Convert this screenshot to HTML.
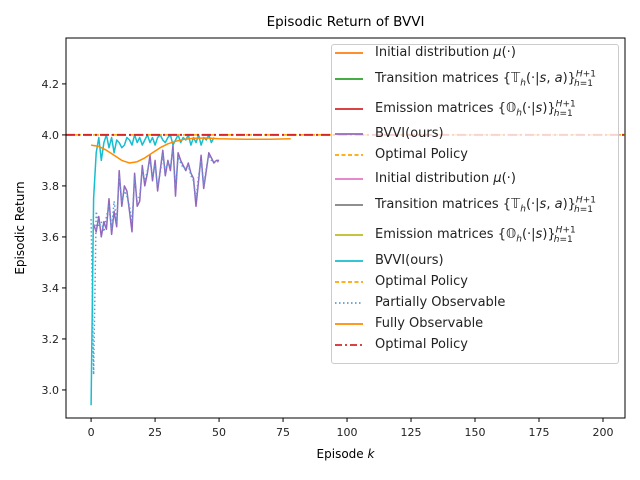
<!DOCTYPE html>
<html><head><meta charset="utf-8"><style>
body{margin:0;background:#fff;font-family:"Liberation Sans","DejaVu Sans",sans-serif}
#wrap{position:relative;width:640px;height:480px;overflow:hidden}
svg text{font-family:"DejaVu Sans","Liberation Sans",sans-serif}
#legend{position:absolute;left:331px;top:44px;width:286px;height:318px;border:1px solid #ccc;border-radius:3px;background:rgba(255,255,255,0.8);font-family:"DejaVu Sans","Liberation Sans",sans-serif;font-size:13px;color:#222}
.le{position:absolute;left:0;height:18px;line-height:18px;white-space:nowrap}
.le svg{position:absolute;left:3px;top:4px}
.le span{position:absolute;left:43px;top:0}
sub,sup{font-size:9px;line-height:0}
</style></head><body>
<div id="wrap">
<svg id="chart" width="640" height="480"></svg>
<div id="legend"></div>
</div>
<script>
const purpleK=[1,2,3,4,5,6,7,8,9,10,11,12,13,14,15,16,17,18,19,20,21,22,23,24,25,26,27,28,29,30,31,32,33,34,35,36,37,38,39,40,41,42,43,44,45,46,47,48,49,50];
const purpleV=[3.65,3.62,3.68,3.60,3.66,3.63,3.75,3.61,3.70,3.64,3.86,3.72,3.80,3.78,3.70,3.62,3.85,3.72,3.74,3.88,3.80,3.85,3.92,3.82,3.90,3.78,3.86,3.94,3.84,3.90,3.86,3.96,3.76,3.93,3.90,3.88,3.86,3.89,3.85,3.83,3.72,3.82,3.92,3.79,3.86,3.93,3.91,3.89,3.90,3.90];
const dottedK=[0,1,2,3,4,5,6,7,8,9,10,11,12,13,14,15,16,17,18,19,20,21,22,23,24,25,26,27,28,29,30,31,32,33,34,35,36,37,38,39,40,41,42,43,44,45,46,47,48,49,50];
const dottedV=[3.67,3.06,3.70,3.64,3.66,3.62,3.68,3.72,3.63,3.74,3.66,3.84,3.74,3.78,3.76,3.72,3.66,3.83,3.74,3.76,3.86,3.82,3.86,3.90,3.84,3.88,3.80,3.85,3.92,3.86,3.89,3.88,3.94,3.80,3.91,3.89,3.87,3.87,3.88,3.84,3.82,3.75,3.84,3.90,3.80,3.87,3.92,3.90,3.90,3.89,3.90];
const cyanK=[0,1,2,3,4,5,6,7,8,9,10,11,12,13,14,15,16,17,18,19,20,21,22,23,24,25,26,27,28,29,30,31,32,33,34,35,36,37,38,39,40,41,42,43,44,45,46,47,48];
const cyanV=[2.94,3.75,3.93,3.99,3.90,3.97,4.0,3.95,3.99,3.93,3.98,3.97,3.95,3.96,3.99,3.98,3.96,4.0,3.97,3.99,3.96,3.98,4.0,3.97,3.99,3.96,3.99,4.0,3.98,3.97,3.99,4.0,3.96,3.98,4.0,3.97,3.99,3.98,4.0,3.96,3.99,3.97,4.0,3.96,3.99,3.98,4.0,3.97,3.99];
const orangeK=[0,3,6,9,12,15,18,21,24,27,30,33,36,40,45,50,60,70,78];
const orangeV=[3.96,3.955,3.94,3.92,3.90,3.89,3.895,3.91,3.93,3.95,3.965,3.975,3.982,3.987,3.988,3.985,3.983,3.983,3.985];
const xTicks=[0,25,50,75,100,125,150,175,200];
const yTicks=[3.0,3.2,3.4,3.6,3.8,4.0,4.2];
const optimal=4.0;

const L=66,R=625,T=38,B=418;
const xmin=-9.8,xmax=208.6,ymin=2.89,ymax=4.38;
const X=k=>L+(k-xmin)/(xmax-xmin)*(R-L);
const Y=v=>B-(v-ymin)/(ymax-ymin)*(B-T);
const svg=document.getElementById('chart');
const NS='http://www.w3.org/2000/svg';
function mk(tag,attrs,parent){const e=document.createElementNS(NS,tag);for(const k in attrs)e.setAttribute(k,attrs[k]);(parent||svg).appendChild(e);return e;}
function line(ks,vs,attrs,name){
  const p=mk('polyline',Object.assign({fill:'none','stroke-linejoin':'round'},attrs));
  p.setAttribute('points',ks.map((k,i)=>X(k).toFixed(1)+','+Y(vs[i]).toFixed(1)).join(' '));
  
  
  return p;
}
const defs=mk('defs',{});const cp=mk('clipPath',{id:'c'},defs);mk('rect',{x:L,y:T,width:R-L,height:B-T},cp);
const g=mk('g',{'clip-path':'url(#c)'});
function lineG(ks,vs,attrs,name){const p=line(ks,vs,attrs,name);g.appendChild(p);return p;}
lineG(purpleK,purpleV,{stroke:'#9467bd','stroke-width':1.5},'bvvi-purple-line');
lineG(dottedK,dottedV,{stroke:'#5a9bd5','stroke-width':1.5,'stroke-dasharray':'1.5,2.5'},'partially-observable-line');
lineG(cyanK,cyanV,{stroke:'#17becf','stroke-width':1.5},'bvvi-cyan-line');
lineG(orangeK,orangeV,{stroke:'#ff8c00','stroke-width':1.5},'fully-observable-line');
lineG([xmin,xmax],[optimal,optimal],{stroke:'#ffa500','stroke-width':1.5,'stroke-dasharray':'6,3'},'optimal-policy-dashed');
lineG([xmin,xmax],[optimal,optimal],{stroke:'#d62728','stroke-width':2,'stroke-dasharray':'9,3,2,3'},'optimal-policy-line');
const fr=mk('rect',{x:L,y:T,width:R-L,height:B-T,fill:'none',stroke:'#000','stroke-width':1});

xTicks.forEach(t=>{const x=X(t);mk('line',{x1:x,x2:x,y1:B,y2:B+4,stroke:'#000'});
 const tx=mk('text',{x:x,y:B+18,'text-anchor':'middle','font-size':11,fill:'#222'});tx.textContent=t;
 });
yTicks.forEach(t=>{const y=Y(t);mk('line',{x1:L-4,x2:L,y1:y,y2:y,stroke:'#000'});
 const tx=mk('text',{x:L-7,y:y+4,'text-anchor':'end','font-size':11,fill:'#222'});tx.textContent=t.toFixed(1);
 });
const title=mk('text',{x:(L+R)/2,y:26,'text-anchor':'middle','font-size':13.5,fill:'#000'});title.textContent='Episodic Return of BVVI';

const xl=mk('text',{x:(L+R)/2,y:458,'text-anchor':'middle','font-size':12,fill:'#000'});xl.innerHTML='Episode <tspan font-style="italic">k</tspan>';

const yl=mk('text',{x:24,y:(T+B)/2,'text-anchor':'middle','font-size':12,fill:'#000',transform:'rotate(-90 24 '+((T+B)/2)+')'});yl.textContent='Episodic Return';


const T_=' Transition matrices {<i>𝕋<sub>h</sub></i>(·|<i>s</i>, <i>a</i>)}<sup><i>H</i>+1</sup><sub style="margin-left:-22px"><i>h</i>=1</sub>';
const E_=' Emission matrices {<i>𝕆<sub>h</sub></i>(·|<i>s</i>)}<sup><i>H</i>+1</sup><sub style="margin-left:-22px"><i>h</i>=1</sub>';
const entries=[
 [8,'#ff7f0e','','Initial distribution <i>μ</i>(·)'],
 [34,'#2ca02c','',T_],
 [64,'#d62728','',E_],
 [89,'#9467bd','','BVVI(ours)'],
 [110,'#ffa500','4,2.5','Optimal Policy'],
 [134,'#e377c2','','Initial distribution <i>μ</i>(·)'],
 [160,'#7f7f7f','',T_],
 [190,'#bcbd22','',E_],
 [216,'#17becf','','BVVI(ours)'],
 [237,'#ffa500','4,2.5','Optimal Policy'],
 [258,'#5a9bd5','1.5,2.5','Partially Observable'],
 [279,'#ff8c00','','Fully Observable'],
 [300,'#d62728','7,3,2,3','Optimal Policy']];
const lg=document.getElementById('legend');
entries.forEach(e=>{
 const d=document.createElement('div');d.className='le';d.style.top=(e[0]-9)+'px';
 
 
 d.innerHTML='<svg width="30" height="10"><line x1="0" x2="28" y1="5" y2="5" stroke="'+e[1]+'" stroke-width="1.8" stroke-dasharray="'+e[2]+'"/></svg><span>'+e[3]+'</span>';
 lg.appendChild(d);});
</script>
</body></html>
